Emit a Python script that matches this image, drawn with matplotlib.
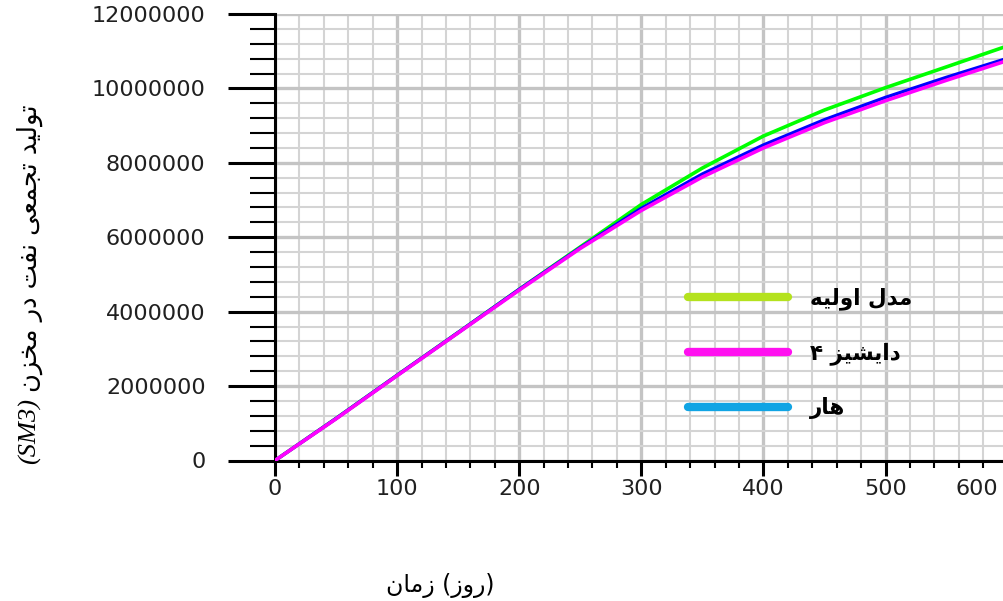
import matplotlib
matplotlib.use("Agg")
import matplotlib.pyplot as plt
from matplotlib.lines import Line2D
from matplotlib.ticker import MultipleLocator

# data (days, cumulative oil in SM3)
days = [0, 50, 100, 150, 200, 250, 300, 350, 400, 450, 500, 550, 597]
base_model = [0, 1.13e6, 2.29e6, 3.44e6, 4.60e6, 5.74e6, 6.88e6, 7.86e6, 8.72e6, 9.42e6, 10.02e6, 10.58e6, 11.11e6]
har = [0, 1.13e6, 2.29e6, 3.44e6, 4.60e6, 5.72e6, 6.78e6, 7.70e6, 8.48e6, 9.16e6, 9.76e6, 10.30e6, 10.78e6]
dyshiz4 = [0, 1.12e6, 2.28e6, 3.43e6, 4.58e6, 5.70e6, 6.72e6, 7.62e6, 8.40e6, 9.08e6, 9.67e6, 10.22e6, 10.72e6]

xticks = [0, 100, 200, 300, 400, 500]
yticks = [0, 2000000, 4000000, 6000000, 8000000, 10000000, 12000000]

# matplotlib has no arabic shaping, so pick presentation forms by hand
# (isolated, final, initial, medial)
FORMS = {
    "ا": ("\uFE8D", "\uFE8E", None, None),
    "ت": ("\uFE95", "\uFE96", "\uFE97", "\uFE98"),
    "ج": ("\uFE9D", "\uFE9E", "\uFE9F", "\uFEA0"),
    "خ": ("\uFEA5", "\uFEA6", "\uFEA7", "\uFEA8"),
    "د": ("\uFEA9", "\uFEAA", None, None),
    "ر": ("\uFEAD", "\uFEAE", None, None),
    "ز": ("\uFEAF", "\uFEB0", None, None),
    "ش": ("\uFEB5", "\uFEB6", "\uFEB7", "\uFEB8"),
    "ع": ("\uFEC9", "\uFECA", "\uFECB", "\uFECC"),
    "ف": ("\uFED1", "\uFED2", "\uFED3", "\uFED4"),
    "ل": ("\uFEDD", "\uFEDE", "\uFEDF", "\uFEE0"),
    "م": ("\uFEE1", "\uFEE2", "\uFEE3", "\uFEE4"),
    "ن": ("\uFEE5", "\uFEE6", "\uFEE7", "\uFEE8"),
    "ه": ("\uFEE9", "\uFEEA", "\uFEEB", "\uFEEC"),
    "و": ("\uFEED", "\uFEEE", None, None),
    "ی": ("\uFBFC", "\uFBFD", "\uFBFE", "\uFBFF"),
}


def fa(text):
    out = []
    for i, ch in enumerate(text):
        if ch not in FORMS:
            out.append(ch)
            continue
        iso, fin, ini, med = FORMS[ch]
        prev = text[i - 1] if i > 0 else None
        nxt = text[i + 1] if i < len(text) - 1 else None
        jp = prev in FORMS and FORMS[prev][2] is not None
        jn = ini is not None and nxt in FORMS
        if jp and jn:
            out.append(med)
        elif jp:
            out.append(fin)
        elif jn:
            out.append(ini)
        else:
            out.append(iso)
    return "".join(reversed(out))


fig = plt.figure(figsize=(10.04, 6.01), dpi=100)
ax = fig.add_axes([275 / 1004, 1 - 460.5 / 601, 729 / 1004, 446.5 / 601])

ax.plot(days, base_model, color="#00ff00", lw=2.6, zorder=3)
ax.plot(days, har, color="#0000ff", lw=2.4, zorder=4)
ax.plot(days, dyshiz4, color="#ff00ff", lw=2.6, zorder=5)

ax.set_xlim(0, 597)
ax.set_ylim(0, 12000000)
ax.set_xticks(xticks)
ax.set_yticks(yticks)
ax.set_yticklabels([str(v) for v in yticks])
ax.xaxis.set_minor_locator(MultipleLocator(20))
ax.yaxis.set_minor_locator(MultipleLocator(400000))

ax.grid(which="major", color="#c4c4c4", lw=2.4, zorder=0)
ax.grid(which="minor", color="#d4d4d4", lw=1.5, zorder=0)
ax.set_axisbelow(True)

for s in ["top", "right"]:
    ax.spines[s].set_visible(False)
for s in ["left", "bottom"]:
    ax.spines[s].set_linewidth(2.2)
    ax.spines[s].set_color("black")

ax.tick_params(axis="y", which="major", length=34, width=2.2, pad=16, labelsize=16, labelcolor="#202020")
ax.tick_params(axis="y", which="minor", length=18, width=1.5)
ax.tick_params(axis="x", which="major", length=11, width=2.2, pad=2, labelsize=16, labelcolor="#202020")
ax.tick_params(axis="x", which="minor", length=5, width=1.5)

# the 600 label sits against the right edge in the reference
ax.annotate("600", xy=(1, 0), xycoords="axes fraction", xytext=(-4, -13),
            textcoords="offset points", ha="right", va="top", fontsize=16, color="#202020")

handles = [Line2D([], [], color="#b4e21e", lw=6, solid_capstyle="round"),
           Line2D([], [], color="#ff10f0", lw=6, solid_capstyle="round"),
           Line2D([], [], color="#10a4e4", lw=6, solid_capstyle="round")]
labels = [fa("مدل اولیه"), "۴ " + fa("دایشیز"), fa("هار")]
ax.legend(handles, labels, loc="upper left", bbox_to_anchor=(0.567, 0.388), frameon=False,
          prop={"family": "DejaVu Sans", "weight": "bold", "size": 15.5},
          handlelength=4.65, handletextpad=1.0, labelspacing=1.5, borderpad=0, borderaxespad=0)

# axis titles
t1 = fig.text(30 / 1004, 1 - 464 / 601, "(SM3)", rotation=90, ha="center", va="bottom",
              family="Liberation Serif", style="italic", fontsize=19)
ax.annotate(fa("تولید تجمعی نفت در مخزن"), xy=(0.5, 1), xycoords=t1, xytext=(0, 4),
            textcoords="offset points", rotation=90, ha="center", va="bottom",
            family="DejaVu Sans", fontsize=18.5, annotation_clip=False)

fig.text(440 / 1004, 1 - 585 / 601, fa("زمان") + " (" + fa("روز") + ")",
         ha="center", va="center", family="DejaVu Sans", fontsize=17)

fig.savefig("out.png", dpi=100)
